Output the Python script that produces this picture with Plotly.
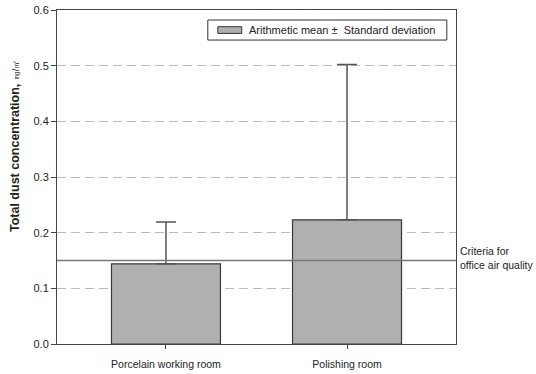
import plotly.graph_objects as go

categories = ["Porcelain working room", "Polishing room"]
means = [0.144, 0.223]
std_devs = [0.075, 0.279]
criteria = 0.15
y_ticks = [0.0, 0.1, 0.2, 0.3, 0.4, 0.5, 0.6]
legend_label = "Arithmetic mean ±  Standard deviation"
y_title = "<b>Total dust concentration,</b> <span style='font-size:9px'>㎎/㎥</span>"

positions = list(range(len(categories)))
font = "Liberation Sans, Arial, sans-serif"

fig = go.Figure()
fig.add_trace(go.Bar(
    x=positions, y=means, width=0.602,
    marker=dict(color="#b0b0b0", line=dict(color="#3a3a3a", width=1.2)),
    error_y=dict(type="data", symmetric=False, array=std_devs,
                 arrayminus=[0] * len(std_devs),
                 color="#555555", thickness=1.5, width=10),
    showlegend=False,
))

shapes = [
    # criteria line across the plotting area
    dict(type="line", xref="paper", yref="y", x0=0, x1=1, y0=criteria, y1=criteria,
         line=dict(color="#777777", width=1.5), layer="above"),
    # legend frame
    dict(type="rect", xref="paper", yref="paper", x0=0.378, x1=0.977, y0=0.910, y1=0.970,
         line=dict(color="#333333", width=1), fillcolor="white", layer="above"),
    # legend patch
    dict(type="rect", xref="paper", yref="paper", x0=0.403, x1=0.463, y0=0.930, y1=0.950,
         line=dict(color="#333333", width=1), fillcolor="#b0b0b0", layer="above"),
]

annotations = [
    dict(xref="paper", yref="paper", x=0.475, y=0.940, text=legend_label,
         showarrow=False, xanchor="left", yanchor="middle",
         font=dict(family=font, size=11, color="#222")),
    dict(xref="paper", yref="y", x=1.005, y=criteria, text="Criteria for<br>office air quality",
         showarrow=False, xanchor="left", yanchor="bottom", align="left",
         font=dict(family=font, size=10.5, color="#222"), yshift=-12),
    # y-axis title
    dict(xref="paper", yref="paper", x=-0.105, y=0.593, text=y_title,
         textangle=-90, showarrow=False, xanchor="center", yanchor="middle",
         font=dict(family=font, size=12.5, color="#222")),
]

fig.update_layout(
    width=536, height=374,
    margin=dict(l=57, r=80, t=10, b=30),
    plot_bgcolor="white", paper_bgcolor="white",
    shapes=shapes, annotations=annotations,
    font=dict(family=font, size=11, color="#222"),
    xaxis=dict(
        range=[-0.602, 1.602], tickvals=positions, ticktext=categories,
        ticks="outside", ticklen=4, tickcolor="#444", showgrid=False,
        showline=True, linecolor="#444", linewidth=1, mirror=True,
        tickfont=dict(size=10.5), zeroline=False, ticklabelstandoff=6,
        automargin=False,
    ),
    yaxis=dict(
        range=[0, 0.6], tickvals=y_ticks, tickformat=".1f",
        ticks="outside", ticklen=5, tickcolor="#444",
        showline=True, linecolor="#444", linewidth=1, mirror=True,
        showgrid=True, gridcolor="#bbbbbb", gridwidth=1, griddash="9px,5px",
        zeroline=False, tickfont=dict(size=11), automargin=False,
    ),
)

fig.write_html("out.html")
